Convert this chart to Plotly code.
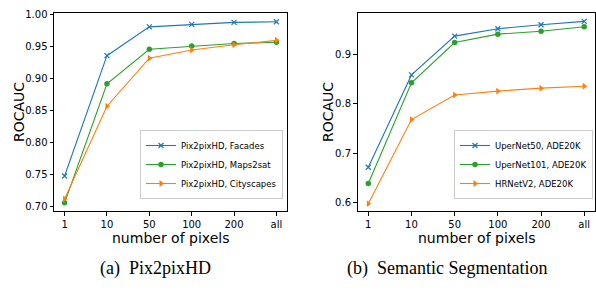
import plotly.graph_objects as go

categories = ["1", "10", "50", "100", "200", "all"]

# (a) Pix2pixHD
facades = [0.748, 0.936, 0.981, 0.985, 0.988, 0.989]
maps2sat = [0.706, 0.892, 0.946, 0.951, 0.955, 0.957]
cityscapes = [0.712, 0.857, 0.932, 0.945, 0.953, 0.960]

# (b) Semantic Segmentation
upernet50 = [0.671, 0.859, 0.938, 0.953, 0.961, 0.968]
upernet101 = [0.638, 0.843, 0.925, 0.942, 0.948, 0.957]
hrnetv2 = [0.597, 0.768, 0.818, 0.826, 0.832, 0.836]

left_ticks = [0.70, 0.75, 0.80, 0.85, 0.90, 0.95, 1.00]
right_ticks = [0.6, 0.7, 0.8, 0.9]

BLUE = "#1f77b4"
GREEN = "#2ca02c"
ORANGE = "#ff7f0e"

W, H = 596, 291
xpos = list(range(len(categories)))

fig = go.Figure()


def add(y, name, color, symbol, xa, ya, legend, msize):
    marker = dict(symbol=symbol, size=msize, color=color)
    if symbol == "x-thin":
        marker["line"] = dict(color=color, width=1.2)
    fig.add_trace(go.Scatter(
        x=xpos, y=y, name=name, mode="lines+markers",
        line=dict(color=color, width=1.1), marker=marker,
        xaxis=xa, yaxis=ya, legend=legend,
    ))


add(facades, "Pix2pixHD, Facades", BLUE, "x-thin", "x", "y", "legend", 5)
add(maps2sat, "Pix2pixHD, Maps2sat", GREEN, "circle", "x", "y", "legend", 5.5)
add(cityscapes, "Pix2pixHD, Cityscapes", ORANGE, "triangle-right", "x", "y", "legend", 6)
add(upernet50, "UperNet50, ADE20K", BLUE, "x-thin", "x2", "y2", "legend2", 5)
add(upernet101, "UperNet101, ADE20K", GREEN, "circle", "x2", "y2", "legend2", 5.5)
add(hrnetv2, "HRNetV2, ADE20K", ORANGE, "triangle-right", "x2", "y2", "legend2", 6)

tickfont = dict(family="DejaVu Sans", size=10, color="black")
common_x = dict(
    tickmode="array", tickvals=xpos, ticktext=categories, range=[-0.25, 5.25],
    showline=True, linecolor="black", linewidth=1, mirror=True,
    ticks="outside", ticklen=3.5, tickwidth=0.8, tickcolor="black",
    showgrid=False, zeroline=False, tickfont=tickfont, automargin=False,
)
common_y = dict(
    showline=True, linecolor="black", linewidth=1, mirror=True,
    ticks="outside", ticklen=3.5, tickwidth=0.8, tickcolor="black",
    showgrid=False, zeroline=False, tickfont=tickfont, tickmode="array",
    automargin=False,
)

y_dom = [1 - 211 / H, 1 - 13 / H]

legend_style = dict(
    xanchor="right", yanchor="bottom",
    bgcolor="rgba(255,255,255,0.8)", bordercolor="#cccccc", borderwidth=1,
    font=dict(family="DejaVu Sans", size=8.5, color="black"),
    tracegroupgap=0, itemwidth=30,
)

fig.update_layout(
    width=W, height=H,
    margin=dict(l=0, r=0, t=0, b=0, autoexpand=False),
    paper_bgcolor="white", plot_bgcolor="white",
    xaxis=dict(domain=[54 / W, 287 / W], anchor="y", **common_x),
    yaxis=dict(domain=y_dom, anchor="x", range=[0.6933, 1.0027],
               tickvals=left_ticks, ticktext=[f"{v:.2f}" for v in left_ticks], **common_y),
    xaxis2=dict(domain=[357.5 / W, 595 / W], anchor="y2", **common_x),
    yaxis2=dict(domain=y_dom, anchor="x2", range=[0.582, 0.985],
                tickvals=right_ticks, ticktext=[f"{v:.1f}" for v in right_ticks], **common_y),
    legend=dict(x=283 / W, y=1 - 199 / H, **legend_style),
    legend2=dict(x=593 / W, y=1 - 199 / H, **legend_style),
    showlegend=True,
    hovermode=False,
)

title_font = dict(family="DejaVu Sans", size=14, color="black")
cap_font = dict(family="Liberation Serif", size=18, color="black")
annotations = [
    dict(text="number of pixels", x=(54 + 287) / 2 / W, y=1 - 238 / H, font=title_font),
    dict(text="number of pixels", x=(357.5 + 595) / 2 / W, y=1 - 238 / H, font=title_font),
    dict(text="ROCAUC", x=19 / W, y=1 - 112 / H, textangle=-90, font=title_font),
    dict(text="ROCAUC", x=328 / W, y=1 - 112 / H, textangle=-90, font=title_font),
    dict(text="(a)  Pix2pixHD", x=155 / W, y=1 - 268 / H, font=cap_font),
    dict(text="(b)  Semantic Segmentation", x=447 / W, y=1 - 268 / H, font=cap_font),
]
for a in annotations:
    a.update(xref="paper", yref="paper", showarrow=False)
    a.setdefault("xanchor", "center")
    a.setdefault("yanchor", "middle")
fig.update_layout(annotations=annotations)

fig.write_html(
    "out.html",
    config={"displayModeBar": False},
    post_script="document.body.style.margin='0';document.body.style.overflow='hidden';",
)
